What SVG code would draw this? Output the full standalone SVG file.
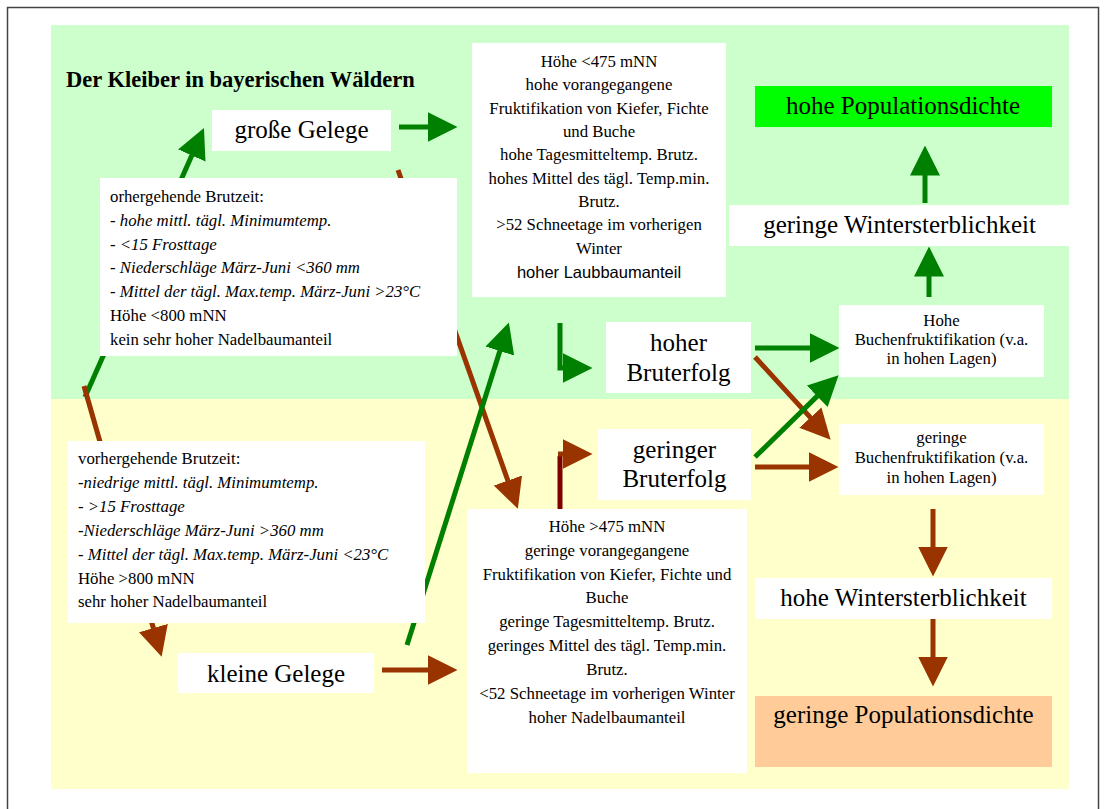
<svg xmlns="http://www.w3.org/2000/svg" width="1107" height="809" viewBox="0 0 1107 809">
<style>
.t{font-family:"Liberation Serif","Times New Roman",serif;fill:#000}
.s17{font-size:16.8px}
.big{font-size:25px}
.c{text-anchor:middle}
.i{font-style:italic}
.box{fill:#fff}
.g{stroke:#008000;stroke-width:5;fill:none}
.b{stroke:#993300;stroke-width:5;fill:none}
</style>
<defs>
<marker id="gh" markerUnits="userSpaceOnUse" viewBox="0 -15 30 30" markerWidth="30" markerHeight="30" refX="0.5" refY="0" orient="auto"><path d="M0,-15 L30,0 L0,15 Z" fill="#008000"/></marker>
<marker id="bh" markerUnits="userSpaceOnUse" viewBox="0 -15 30 30" markerWidth="30" markerHeight="30" refX="0.5" refY="0" orient="auto"><path d="M0,-15 L30,0 L0,15 Z" fill="#993300"/></marker>
</defs>
<rect x="0" y="0" width="1107" height="809" fill="#fff"/>
<rect x="7.5" y="7.5" width="1091" height="810" fill="none" stroke="#444" stroke-width="1.5"/>
<g id="background">
<rect x="51" y="25" width="1018" height="374" fill="#CCFFCC"/>
<rect x="51" y="399" width="1018" height="390" fill="#FFFFCC"/>
</g>
<g id="title"><text class="t" x="66" y="87" font-size="22.5" font-weight="bold">Der Kleiber in bayerischen Wäldern</text></g>

<g id="connectors">
<line class="g" x1="399" y1="127" x2="428" y2="127" marker-end="url(#gh)"/>
<line class="g" x1="85" y1="397" x2="192" y2="155" marker-end="url(#gh)"/>
<line class="b" x1="84" y1="386" x2="153.5" y2="628.5" marker-end="url(#bh)"/>
<line class="b" x1="398" y1="170" x2="508" y2="481" marker-end="url(#bh)"/>
<line class="g" x1="407" y1="645" x2="500" y2="350.6" marker-end="url(#gh)"/>
<path class="g" d="M560,323 L560,368 L563,368" marker-end="url(#gh)"/>
<line x1="560" y1="521" x2="560" y2="456" stroke="#800000" stroke-width="5"/>
<line class="b" x1="558" y1="454" x2="563" y2="454" marker-end="url(#bh)"/>
<line class="g" x1="755" y1="348" x2="810" y2="348" marker-end="url(#gh)"/>
<line class="b" x1="755" y1="357" x2="810.7" y2="417.9" marker-end="url(#bh)"/>
<line class="g" x1="755" y1="457" x2="817.5" y2="395.9" marker-end="url(#gh)"/>
<line class="b" x1="755" y1="467" x2="809" y2="467" marker-end="url(#bh)"/>
<line class="g" x1="929" y1="297" x2="929" y2="276" marker-end="url(#gh)"/>
<line class="g" x1="925" y1="203" x2="925" y2="175" marker-end="url(#gh)"/>
<line class="b" x1="933" y1="509" x2="933" y2="547" marker-end="url(#bh)"/>
<line class="b" x1="933" y1="619" x2="933" y2="657" marker-end="url(#bh)"/>
<line class="b" x1="382" y1="670" x2="428" y2="670" marker-end="url(#bh)"/>
</g>

<g id="grosse-gelege">
<rect class="box" x="212" y="110" width="179" height="41"/>
<text class="t big c" x="301.5" y="138">große Gelege</text>
</g>

<g id="kleine-gelege">
<rect class="box" x="178" y="653" width="196" height="40"/>
<text class="t big c" x="276" y="682">kleine Gelege</text>
</g>

<g id="bedingungen-gut">
<rect class="box" x="100" y="178" width="357" height="178"/>
<text class="t s17" x="110" y="202">orhergehende Brutzeit:</text>
<text class="t s17 i" x="110" y="225.6">- hohe mittl. tägl. Minimumtemp.</text>
<text class="t s17 i" x="110" y="249.5">- &lt;15 Frosttage</text>
<text class="t s17 i" x="110" y="273.4">- Niederschläge März-Juni &lt;360 mm</text>
<text class="t s17 i" x="110" y="297.3">- Mittel der tägl. Max.temp. März-Juni &gt;23°C</text>
<text class="t s17" x="110" y="321.2">Höhe &lt;800 mNN</text>
<text class="t s17" x="110" y="345.1">kein sehr hoher Nadelbaumanteil</text>
</g>

<g id="bedingungen-schlecht">
<rect class="box" x="68" y="441" width="357" height="182"/>
<text class="t s17" x="78" y="464">vorhergehende Brutzeit:</text>
<text class="t s17 i" x="78" y="488">-niedrige mittl. tägl. Minimumtemp.</text>
<text class="t s17 i" x="78" y="512">- &gt;15 Frosttage</text>
<text class="t s17 i" x="78" y="536">-Niederschläge März-Juni &gt;360 mm</text>
<text class="t s17 i" x="78" y="560">- Mittel der tägl. Max.temp. März-Juni &lt;23°C</text>
<text class="t s17" x="78" y="584">Höhe &gt;800 mNN</text>
<text class="t s17" x="78" y="607">sehr hoher Nadelbaumanteil</text>
</g>

<g id="standort-gut">
<rect class="box" x="472" y="43" width="254" height="254"/>
<text class="t s17 c" x="599" y="67">Höhe &lt;475 mNN</text>
<text class="t s17 c" x="599" y="90">hohe vorangegangene</text>
<text class="t s17 c" x="599" y="113.5">Fruktifikation von Kiefer, Fichte</text>
<text class="t s17 c" x="599" y="137">und Buche</text>
<text class="t s17 c" x="599" y="160">hohe Tagesmitteltemp. Brutz.</text>
<text class="t s17 c" x="599" y="183.5">hohes Mittel des tägl. Temp.min.</text>
<text class="t s17 c" x="599" y="207">Brutz.</text>
<text class="t s17 c" x="599" y="230">&gt;52 Schneetage im vorherigen</text>
<text class="t s17 c" x="599" y="253.5">Winter</text>
<text class="c" x="599" y="278" font-family="Liberation Sans, Arial, sans-serif" font-size="16.5">hoher Laubbaumanteil</text>
</g>

<g id="standort-schlecht">
<rect class="box" x="467" y="509" width="280" height="264"/>
<text class="t s17 c" x="607" y="532">Höhe &gt;475 mNN</text>
<text class="t s17 c" x="607" y="555.5">geringe vorangegangene</text>
<text class="t s17 c" x="607" y="579.5">Fruktifikation von Kiefer, Fichte und</text>
<text class="t s17 c" x="607" y="603">Buche</text>
<text class="t s17 c" x="607" y="627">geringe Tagesmitteltemp. Brutz.</text>
<text class="t s17 c" x="607" y="651">geringes Mittel des tägl. Temp.min.</text>
<text class="t s17 c" x="607" y="675">Brutz.</text>
<text class="t s17 c" x="607" y="699">&lt;52 Schneetage im vorherigen Winter</text>
<text class="t s17 c" x="607" y="723">hoher Nadelbaumanteil</text>
</g>

<g id="hoher-bruterfolg">
<rect class="box" x="606" y="322" width="145" height="71"/>
<text class="t big c" x="678.5" y="351">hoher</text>
<text class="t big c" x="678.5" y="381">Bruterfolg</text>
</g>

<g id="geringer-bruterfolg">
<rect class="box" x="598" y="429" width="153" height="71"/>
<text class="t big c" x="674.5" y="458">geringer</text>
<text class="t big c" x="674.5" y="487">Bruterfolg</text>
</g>

<g id="hohe-buchenfruktifikation">
<rect class="box" x="839" y="305" width="205" height="72"/>
<text class="t s17 c" x="941.5" y="326">Hohe</text>
<text class="t s17 c" x="941.5" y="345">Buchenfruktifikation (v.a.</text>
<text class="t s17 c" x="941.5" y="364">in hohen Lagen)</text>
</g>

<g id="geringe-buchenfruktifikation">
<rect class="box" x="839" y="424" width="205" height="71"/>
<text class="t s17 c" x="941.5" y="443">geringe</text>
<text class="t s17 c" x="941.5" y="463">Buchenfruktifikation (v.a.</text>
<text class="t s17 c" x="941.5" y="483">in hohen Lagen)</text>
</g>

<g id="geringe-wintersterblichkeit">
<rect class="box" x="729" y="205" width="340" height="41"/>
<text class="t big c" x="899.5" y="233">geringe Wintersterblichkeit</text>
</g>

<g id="hohe-populationsdichte">
<rect x="755" y="86" width="297" height="41" fill="#00FF00"/>
<text class="t big c" x="903" y="114">hohe Populationsdichte</text>
</g>

<g id="hohe-wintersterblichkeit">
<rect class="box" x="755" y="578" width="297" height="41"/>
<text class="t big c" x="903.5" y="606">hohe Wintersterblichkeit</text>
</g>

<g id="geringe-populationsdichte">
<rect x="755" y="696" width="297" height="71" fill="#FFCC99"/>
<text class="t big c" x="903.5" y="723">geringe Populationsdichte</text>
</g>
</svg>
